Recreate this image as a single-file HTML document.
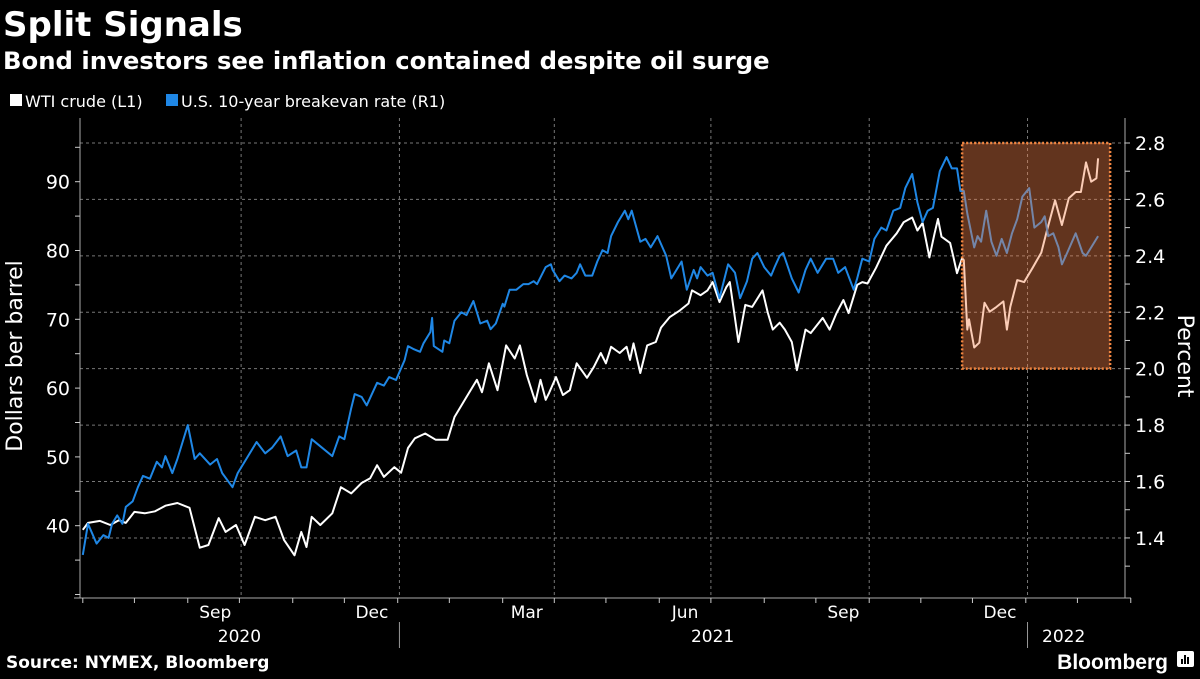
<!DOCTYPE html>
<html><head><meta charset="utf-8">
<style>
html,body{margin:0;padding:0;background:#000;}
body{width:1200px;height:675px;overflow:hidden;font-family:"DejaVu Sans","Liberation Sans",sans-serif;color:#fff;}
svg text{font-family:"DejaVu Sans","Liberation Sans",sans-serif;}
</style></head>
<body>
<svg id="chart" width="1200" height="675" viewBox="0 0 1200 675" xmlns="http://www.w3.org/2000/svg">
<text x="3" y="36" font-size="34" font-weight="bold" fill="#fff">Split Signals</text>
<text x="3" y="69" font-size="24.3" font-weight="bold" fill="#fff">Bond investors see inflation contained despite oil surge</text>
<g>
<g><rect x="10" y="94" width="12" height="12" fill="#fff"/><text x="25" y="107" font-size="16" fill="#fff">WTI crude (L1)</text></g>
<g><rect x="166" y="94" width="12" height="12" fill="#1f87e5"/><text x="181" y="107" font-size="16" fill="#fff">U.S. 10-year breakevan rate (R1)</text></g>
</g>
<text transform="translate(22,356) rotate(-90)" text-anchor="middle" font-size="22" fill="#fff">Dollars ber barrel</text>
<text transform="translate(1178,356) rotate(90)" text-anchor="middle" font-size="22" fill="#fff">Percent</text>
<g id="grid"></g>
<g id="axes"></g>
<g id="series"></g>
<g id="hl"></g>
<text x="6" y="668" font-size="17" font-weight="bold" fill="#fff">Source: NYMEX, Bloomberg</text>
<g>
<text x="1168" y="669" text-anchor="end" font-size="21" font-weight="bold" fill="#fff" style="font-family:'Liberation Sans',sans-serif">Bloomberg</text>
<rect x="1177" y="651" width="17" height="16" rx="2" fill="#fff"/>
<rect x="1181" y="659" width="2" height="5" fill="#000"/><rect x="1184" y="655" width="2" height="9" fill="#000"/><rect x="1187" y="657" width="2" height="7" fill="#000"/>
</g>
</svg>
<script>
// ---- data ----
const wtiDays=[0,3,10,16,21,25,30,36,42,48,55,62,68,73,79,83,89,94,100,106,112,117,123,127,130,133,138,145,150,156,162,167,171,175,181,185,189,193,199,205,212,216,223,229,232,236,241,246,251,254,258,263,266,269,271,275,279,283,287,293,297,301,304,307,312,316,318,320,324,328,333,336,341,347,352,354,359,363,366,370,374,376,381,385,389,395,398,401,405,408,412,415,420,423,430,434,438,442,445,450,453,456,461,467,473,477,482,485,488,492,495,497,499,504,506,508,511,512,514,515,518,521,524,527,531,535,537,539,543,547,552,557,560,565,569,573,577,580,583,586,589,590];
const wtiValues=[39.4,40.4,40.7,40.1,40.8,40.4,42.0,41.8,42.1,42.9,43.3,42.6,36.8,37.2,41.1,39.1,40.1,37.2,41.3,40.8,41.3,37.9,35.7,39.1,36.9,41.3,40.1,41.8,45.6,44.7,46.2,46.9,48.8,47.1,48.5,47.7,51.3,52.7,53.4,52.5,52.5,55.8,58.7,61.2,59.4,63.6,59.7,66.2,64.3,66.2,61.9,58.0,61.2,58.3,59.3,61.6,59.0,59.7,63.6,61.5,63.1,65.1,63.6,66.0,65.1,66.0,64.1,66.5,62.2,66.2,66.7,68.8,70.3,71.3,72.3,74.2,73.5,74.2,75.4,72.5,74.7,75.4,66.7,72.1,71.8,74.2,71.0,68.5,69.5,68.5,66.7,62.6,68.5,68.0,70.2,68.5,70.9,72.8,70.9,75.0,75.4,75.2,77.5,80.7,82.5,84.1,84.8,82.9,84.0,79.0,82.5,84.6,82.0,81.1,79.0,76.7,78.9,78.6,68.5,70.0,65.9,66.6,72.4,71.1,71.8,72.6,68.5,71.8,75.7,75.4,77.5,79.7,82.6,87.3,83.7,87.6,88.5,88.5,92.8,90.0,90.5,93.4];
const beDays=[0,3,8,12,15,17,20,23,25,29,32,35,39,43,46,48,52,55,58,61,65,68,74,78,81,87,90,95,101,106,110,115,119,124,127,130,133,139,145,149,152,156,158,162,165,168,171,175,178,182,187,189,192,196,198,202,203,204,209,210,213,216,220,223,227,231,235,237,240,244,245,248,252,256,259,262,264,269,272,273,277,280,284,287,289,292,296,299,302,305,307,311,315,317,319,324,327,330,334,339,342,345,348,351,355,357,359,363,366,370,375,379,382,386,389,392,396,400,402,405,407,412,416,420,423,427,432,436,439,443,448,450,453,457,460,464,467,471,475,478,482,485,488,491,494,498,502,505,508,510,512,514,518,520,522,525,528,531,534,537,540,543,546,550,553,557,559,561,564,567,569,572,577,581,583,586,590];
const beValues=[1.34,1.45,1.38,1.41,1.40,1.45,1.48,1.45,1.51,1.53,1.58,1.62,1.61,1.67,1.65,1.69,1.63,1.68,1.74,1.80,1.68,1.70,1.66,1.68,1.63,1.58,1.63,1.68,1.74,1.70,1.72,1.76,1.69,1.71,1.65,1.65,1.75,1.72,1.69,1.76,1.75,1.86,1.91,1.90,1.87,1.91,1.95,1.94,1.97,1.96,2.03,2.08,2.07,2.06,2.09,2.13,2.18,2.08,2.06,2.10,2.09,2.17,2.20,2.19,2.24,2.16,2.17,2.14,2.16,2.23,2.22,2.28,2.28,2.30,2.30,2.31,2.30,2.36,2.37,2.35,2.31,2.33,2.32,2.34,2.37,2.33,2.33,2.38,2.42,2.41,2.47,2.52,2.56,2.53,2.56,2.45,2.46,2.43,2.47,2.40,2.32,2.35,2.38,2.28,2.35,2.32,2.36,2.33,2.34,2.25,2.37,2.34,2.25,2.31,2.39,2.41,2.36,2.33,2.36,2.40,2.41,2.32,2.27,2.35,2.39,2.34,2.39,2.39,2.34,2.36,2.28,2.32,2.39,2.38,2.46,2.50,2.49,2.56,2.57,2.64,2.69,2.59,2.52,2.56,2.57,2.70,2.75,2.71,2.71,2.63,2.63,2.55,2.43,2.47,2.45,2.56,2.45,2.40,2.46,2.41,2.48,2.53,2.61,2.64,2.50,2.52,2.54,2.47,2.48,2.43,2.37,2.41,2.48,2.41,2.40,2.43,2.47];
const leftTicks=[40,50,60,70,80,90];
const rightTicks=[1.4,1.6,1.8,2.0,2.2,2.4,2.6,2.8];
const monthLabels=["Sep","Dec","Mar","Jun","Sep","Dec"];
const monthLabelDays=[77,168,258,350,442,533];
const yearLabels=["2020","2021","2022"];
const yearLabelDays=[91,366,570];
const yearSepDays=[184,549];
const highlightStartDay=511, highlightEndDay=597, highlightLow=2.0, highlightHigh=2.8;

// ---- scales ----
const X0=82.8, PXD=1.7208;
const x=d=>X0+d*PXD;
const yL=v=>525.7-(v-40)*6.88;
const yR=v=>143+(2.8-v)*282.1;
const NS="http://www.w3.org/2000/svg";
function mk(tag,attrs,parent){const e=document.createElementNS(NS,tag);for(const k in attrs)e.setAttribute(k,attrs[k]);parent.appendChild(e);return e;}
const grid=document.getElementById('grid'),axes=document.getElementById('axes'),series=document.getElementById('series'),hl=document.getElementById('hl');
const L=80,R=1125,T=118,B=598;

rightTicks.forEach(v=>{const l=mk('line',{x1:L,x2:R,y1:yR(v),y2:yR(v),stroke:'#777','stroke-width':1,'stroke-dasharray':'3,3'},grid);

});
[92,184,274,365,457,549].forEach(d=>{const l=mk('line',{x1:x(d),x2:x(d),y1:T,y2:B,stroke:'#777','stroke-width':1,'stroke-dasharray':'3,3'},grid);

});

mk('line',{x1:L,x2:L,y1:T,y2:B,stroke:'#aaa','stroke-width':1},axes);
mk('line',{x1:R,x2:R,y1:T,y2:B,stroke:'#aaa','stroke-width':1},axes);
mk('line',{x1:L-6,x2:R+6,y1:B,y2:B,stroke:'#aaa','stroke-width':1},axes);
for(let v=30;v<=95;v+=5){mk('line',{x1:L-5,x2:L,y1:yL(v),y2:yL(v),stroke:'#ccc','stroke-width':1},axes);}
leftTicks.forEach(v=>{const t=mk('text',{x:L-10,y:yL(v)+7,'text-anchor':'end','font-size':19,fill:'#fff'},axes);t.textContent=v;

});
for(let i=0;i<=15;i++){const v=1.3+i*0.1;mk('line',{x1:R,x2:R+5,y1:yR(v),y2:yR(v),stroke:'#ccc','stroke-width':1},axes);}
rightTicks.forEach(v=>{const t=mk('text',{x:R+10,y:yR(v)+7,'font-size':19,fill:'#fff'},axes);t.textContent=v.toFixed(1);

});
for(let m=0;m<=20;m++){const d=Math.round(m*30.44);mk('line',{x1:x(d),x2:x(d),y1:B,y2:B+5,stroke:'#ccc','stroke-width':1},axes);}
monthLabels.forEach((s,i)=>{const t=mk('text',{x:x(monthLabelDays[i]),y:618,'text-anchor':'middle','font-size':17,fill:'#fff'},axes);t.textContent=s;

});
yearLabels.forEach((s,i)=>{const t=mk('text',{x:x(yearLabelDays[i]),y:642,'text-anchor':'middle','font-size':17,fill:'#fff'},axes);t.textContent=s;

});
yearSepDays.forEach(d=>{const l=mk('line',{x1:x(d),x2:x(d),y1:622,y2:648,stroke:'#999','stroke-width':1},axes);

});

function path(days,vals,ys){return days.map((d,i)=>(i?'L':'M')+x(d).toFixed(1)+','+ys(vals[i]).toFixed(1)).join('');}
const pw=mk('path',{d:path(wtiDays,wtiValues,yL),fill:'none',stroke:'#fff','stroke-width':2,'stroke-linejoin':'round'},series);


const pb=mk('path',{d:path(beDays,beValues,yR),fill:'none',stroke:'#1f87e5','stroke-width':2,'stroke-linejoin':'round'},series);



const hx1=x(highlightStartDay),hx2=x(highlightEndDay),hy1=yR(highlightHigh),hy2=yR(highlightLow);
const hr=mk('rect',{x:hx1,y:hy1,width:hx2-hx1,height:hy2-hy1,fill:'rgba(245,130,75,0.4)',stroke:'#f08540','stroke-width':2.5,'stroke-dasharray':'2,2'},hl);


</script>
</body></html>
